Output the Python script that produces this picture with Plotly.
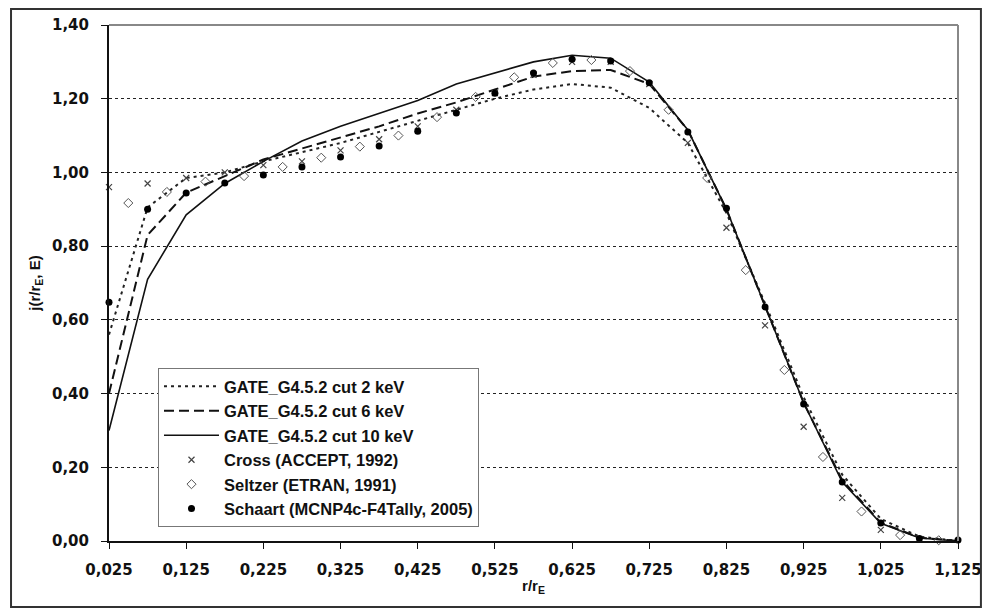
import plotly.graph_objects as go

# GATE simulations (lines), sampled every 0.05
x_gate = [0.025, 0.075, 0.125, 0.175, 0.225, 0.275, 0.325, 0.375, 0.425, 0.475, 0.525, 0.575,
          0.625, 0.675, 0.725, 0.775, 0.825, 0.875, 0.925, 0.975, 1.025, 1.075, 1.125]
gate_2kev = [0.56, 0.905, 0.985, 1.0, 1.03, 1.055, 1.08, 1.11, 1.14, 1.17, 1.20, 1.225,
             1.24, 1.23, 1.175, 1.08, 0.89, 0.645, 0.39, 0.18, 0.06, 0.012, 0.0]
gate_6kev = [0.40, 0.83, 0.945, 0.99, 1.035, 1.065, 1.095, 1.125, 1.16, 1.19, 1.225, 1.26,
             1.275, 1.278, 1.24, 1.115, 0.90, 0.635, 0.375, 0.165, 0.05, 0.009, 0.0]
gate_10kev = [0.30, 0.71, 0.885, 0.97, 1.03, 1.085, 1.125, 1.16, 1.195, 1.24, 1.27, 1.30,
              1.318, 1.31, 1.245, 1.115, 0.90, 0.635, 0.375, 0.16, 0.048, 0.008, 0.0]

# reference codes (markers)
x_cross = [0.025, 0.075, 0.125, 0.175, 0.225, 0.275, 0.325, 0.375, 0.425, 0.475, 0.525,
           0.575, 0.625, 0.675, 0.725, 0.775, 0.825, 0.875, 0.925, 0.975, 1.025, 1.075]
cross = [0.96, 0.97, 0.985, 1.0, 1.02, 1.03, 1.06, 1.09, 1.125, 1.17, 1.215,
         1.265, 1.30, 1.30, 1.24, 1.08, 0.85, 0.585, 0.31, 0.117, 0.03, 0.005]

x_seltzer = [0.05, 0.10, 0.15, 0.20, 0.25, 0.30, 0.35, 0.40, 0.45, 0.50, 0.55,
             0.60, 0.65, 0.70, 0.75, 0.80, 0.85, 0.90, 0.95, 1.00, 1.05, 1.10]
seltzer = [0.917, 0.947, 0.975, 0.99, 1.015, 1.04, 1.07, 1.10, 1.15, 1.205, 1.258,
           1.297, 1.305, 1.275, 1.17, 0.985, 0.735, 0.464, 0.228, 0.08, 0.016, 0.002]

x_schaart = x_gate
schaart = [0.648, 0.90, 0.944, 0.971, 0.993, 1.015, 1.042, 1.072, 1.112, 1.161, 1.215, 1.27,
           1.307, 1.302, 1.243, 1.11, 0.903, 0.635, 0.372, 0.16, 0.049, 0.007, 0.003]

x_ticks = [0.025, 0.125, 0.225, 0.325, 0.425, 0.525, 0.625, 0.725, 0.825, 0.925, 1.025, 1.125]
y_ticks = [0.0, 0.2, 0.4, 0.6, 0.8, 1.0, 1.2, 1.4]

TICK_FONT = "DejaVu Sans, Arial, sans-serif"
TEXT_FONT = "Liberation Sans, Arial, sans-serif"

fig = go.Figure()
fig.add_trace(go.Scatter(x=x_gate, y=gate_2kev, mode="lines", name="GATE_G4.5.2 cut 2 keV",
                         line=dict(color="#222", width=2, dash="3px,4px")))
fig.add_trace(go.Scatter(x=x_gate, y=gate_6kev, mode="lines", name="GATE_G4.5.2 cut 6 keV",
                         line=dict(color="#111", width=2, dash="10px,5px")))
fig.add_trace(go.Scatter(x=x_gate, y=gate_10kev, mode="lines", name="GATE_G4.5.2 cut 10 keV",
                         line=dict(color="#111", width=1.6)))
fig.add_trace(go.Scatter(x=x_cross, y=cross, mode="markers", name="Cross (ACCEPT, 1992)",
                         marker=dict(symbol="x-thin", size=6, line=dict(color="#444", width=1.2))))
fig.add_trace(go.Scatter(x=x_seltzer, y=seltzer, mode="markers", name="Seltzer (ETRAN, 1991)",
                         marker=dict(symbol="diamond-open", size=7, color="#555", line=dict(width=1))))
fig.add_trace(go.Scatter(x=x_schaart, y=schaart, mode="markers", name="Schaart (MCNP4c-F4Tally, 2005)",
                         marker=dict(symbol="circle", size=7, color="#000")))
fig.update_traces(cliponaxis=False)

fig.update_layout(
    width=985, height=610,
    margin=dict(l=109, r=27, t=25, b=69, autoexpand=False),
    paper_bgcolor="white", plot_bgcolor="white",
    separators=",.",
    font=dict(family=TEXT_FONT, size=14, color="#111"),
    showlegend=True,
    legend=dict(x=0.0577, y=0.335, xanchor="left", yanchor="top",
                bgcolor="white", bordercolor="#777", borderwidth=1,
                font=dict(family=TEXT_FONT, size=16.5, color="#111", weight="bold"),
                itemwidth=55, tracegroupgap=0),
    xaxis=dict(range=[0.025, 1.125], tickvals=x_ticks, tickformat=".3f",
               showgrid=False, zeroline=False, automargin=False,
               showline=True, linecolor="#111", linewidth=2,
               ticks="outside", ticklen=6, tickcolor="#111", tickwidth=1,
               ticklabelstandoff=8,
               tickfont=dict(family=TICK_FONT, size=15, weight="bold"),
               title=dict(text="r/r<sub>E</sub>", standoff=2,
                          font=dict(family=TEXT_FONT, size=15, weight="bold"))),
    yaxis=dict(range=[0, 1.4], tickvals=y_ticks, tickformat=".2f",
               showgrid=True, gridcolor="#222", griddash="dot", gridwidth=1,
               zeroline=False, automargin=False,
               showline=True, linecolor="#111", linewidth=2,
               ticks="outside", ticklen=6, tickcolor="#111", tickwidth=1,
               ticklabelstandoff=9,
               tickfont=dict(family=TICK_FONT, size=15, weight="bold"),
               title=dict(text="j(r/r<sub>E</sub>, E)", standoff=8,
                          font=dict(family=TEXT_FONT, size=15, weight="bold"))),
)

# grey top and right edges of the plot area
fig.add_shape(type="line", xref="paper", yref="paper", x0=0, x1=1, y0=1, y1=1,
              line=dict(color="#888", width=2))
fig.add_shape(type="line", xref="paper", yref="paper", x0=1, x1=1, y0=0, y1=1,
              line=dict(color="#888", width=2))
# outer frame round the whole chart
fig.add_shape(type="rect", xref="paper", yref="paper", x0=-0.1154, x1=1.027, y0=-0.128, y1=1.031,
              line=dict(color="#333", width=2))

fig.write_html("out.html", config={"displayModeBar": False, "responsive": False},
               post_script="document.body.style.margin='0';")
